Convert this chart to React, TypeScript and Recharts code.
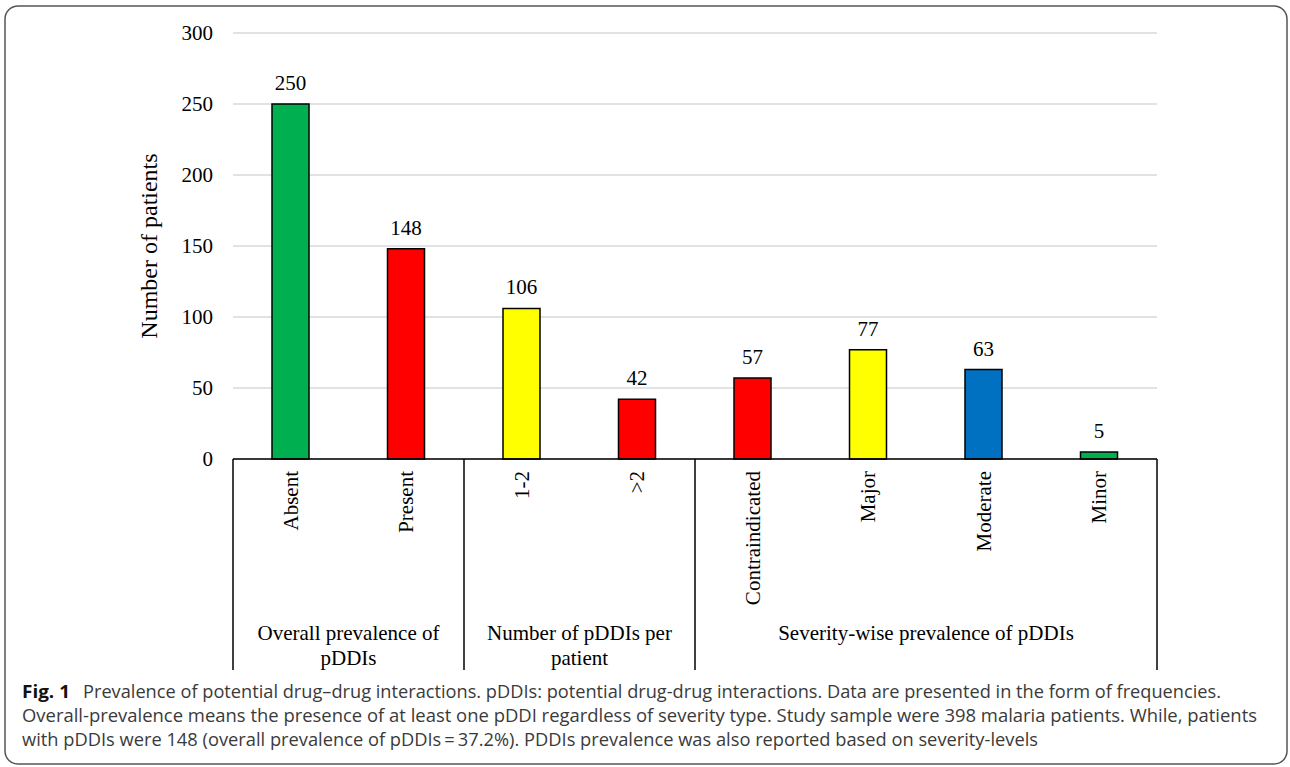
import React from 'react';
import { BarChart, Bar, XAxis, YAxis, CartesianGrid, Cell, LabelList, Label } from 'recharts';

const categories = ['Absent', 'Present', '1-2', '>2', 'Contraindicated', 'Major', 'Moderate', 'Minor'];
const values = [250, 148, 106, 42, 57, 77, 63, 5];
const barColors = ['#00B050', '#FF0000', '#FFFF00', '#FF0000', '#FF0000', '#FFFF00', '#0070C0', '#00B050'];
const yTicks = [0, 50, 100, 150, 200, 250, 300];
const groups = [
  { lines: ['Overall prevalence of', 'pDDIs'], first: 0, last: 1 },
  { lines: ['Number of pDDIs per', 'patient'], first: 2, last: 3 },
  { lines: ['Severity-wise prevalence of pDDIs'], first: 4, last: 7 },
];
const yAxisLabel = 'Number of patients';
const captionBold = 'Fig. 1';
const captionLine1 = 'Prevalence of potential drug\u2013drug interactions. pDDIs: potential drug-drug interactions. Data are presented in the form of frequencies.';
const captionLine2 = 'Overall-prevalence means the presence of at least one pDDI regardless of severity type. Study sample were 398 malaria patients. While, patients';
const captionLine3 = 'with pDDIs were 148 (overall prevalence of pDDIs\u2009=\u200937.2%). PDDIs prevalence was also reported based on severity-levels';

const data = categories.map((name, i) => ({ name, value: values[i], color: barColors[i] }));

const SERIF = '"Liberation Serif", "Times New Roman", serif';
const SANS = '"Open Sans", "Noto Sans", sans-serif';
const AXIS_DEPTH = 211;
const SX = 0.92;

const CategoryTick = (props: any) => {
  const { x, y, payload } = props;
  const idx: number = payload?.index ?? props.index;
  const half: number = payload && payload.offset ? payload.offset : 57.75;
  const ly = y + 12;
  const els: any[] = [];
  els.push(
    <text
      key="lab"
      x={x}
      y={ly}
      transform={`rotate(-90 ${x} ${ly})`}
      textAnchor="end"
      dominantBaseline="central"
      fill="#000"
      fontSize={21}
      fontFamily={SERIF}
    >
      {payload.value}
    </text>
  );
  groups.forEach((g, gi) => {
    if (g.first === idx) {
      const left = x - half;
      const cx = left + (g.last - g.first + 1) * half;
      els.push(<line key={`sep${gi}`} x1={left} x2={left} y1={y} y2={y + AXIS_DEPTH} stroke="#000" strokeWidth={1.5} />);
      g.lines.forEach((ln, li) => {
        els.push(
          <text
            key={`g${gi}-${li}`}
            x={cx}
            y={y + 174 + li * 25}
            textAnchor="middle"
            dominantBaseline="central"
            fill="#000"
            fontSize={21}
            fontFamily={SERIF}
          >
            {ln}
          </text>
        );
      });
    }
    if (gi === groups.length - 1 && g.last === idx) {
      els.push(<line key="sepEnd" x1={x + half} x2={x + half} y1={y} y2={y + AXIS_DEPTH} stroke="#000" strokeWidth={1.5} />);
    }
  });
  return <g>{els}</g>;
};

const YLabel = (p: any) => {
  const vb = p.viewBox || { x: 133, y: 33, width: 100, height: 426 };
  const cx = vb.x + 16;
  const cy = vb.y + vb.height / 2;
  return (
    <text
      x={cx}
      y={cy}
      transform={`rotate(-90 ${cx} ${cy})`}
      textAnchor="middle"
      dominantBaseline="central"
      fill="#000"
      fontSize={24}
      fontFamily={SERIF}
    >
      {yAxisLabel}
    </text>
  );
};

const CaptionText = ({ x, y, len, bold, children }: any) => (
  <text
    transform={`translate(${x},${y}) scale(${SX},1)`}
    x={0}
    y={0}
    fontFamily={SANS}
    fontSize={17.5}
    fontWeight={bold ? 'bold' : 'normal'}
    fill={bold ? '#111' : '#3a3a3a'}
    textLength={len / SX}
    lengthAdjust="spacingAndGlyphs"
  >
    {children}
  </text>
);

export default function App() {
  return (
    <div style={{ position: 'absolute', left: 0, top: 0, width: 1290, height: 767, background: '#fff' }}>
      <div style={{ position: 'absolute', left: 0, top: 0 }}>
        <BarChart width={1290} height={767} data={data} margin={{ top: 33, right: 133, left: 133, bottom: 97 }}>
          <CartesianGrid vertical={false} stroke="#d9d9d9" strokeWidth={1.5} />
          <XAxis
            dataKey="name"
            interval={0}
            height={AXIS_DEPTH}
            tickLine={false}
            tickSize={0}
            tickMargin={0}
            axisLine={{ stroke: '#000', strokeWidth: 1.5 }}
            tick={<CategoryTick />}
          />
          <YAxis
            width={100}
            domain={[0, 300]}
            ticks={yTicks}
            axisLine={false}
            tickLine={false}
            tickSize={0}
            tickMargin={20}
            tick={{ fill: '#000', fontSize: 21, fontFamily: SERIF }}
          >
            <Label content={<YLabel />} />
          </YAxis>
          <Bar dataKey="value" barSize={37} stroke="#000" strokeWidth={1.5} isAnimationActive={false}>
            {data.map((d, i) => (
              <Cell key={i} fill={d.color} />
            ))}
            <LabelList dataKey="value" position="top" offset={14} fill="#000" fontSize={21} fontFamily={SERIF} />
          </Bar>
        </BarChart>
      </div>
      <svg width={1290} height={767} style={{ position: 'absolute', left: 0, top: 0, pointerEvents: 'none' }}>
        <rect x={5} y={6} width={1282} height={758} rx={13} ry={13} fill="none" stroke="#555" strokeWidth={1.5} />
        <CaptionText x={22} y={698} len={48} bold>{captionBold}</CaptionText>
        <CaptionText x={83} y={698} len={1138}>{captionLine1}</CaptionText>
        <CaptionText x={22} y={722} len={1235}>{captionLine2}</CaptionText>
        <CaptionText x={22} y={746} len={1016}>{captionLine3}</CaptionText>
      </svg>
    </div>
  );
}
